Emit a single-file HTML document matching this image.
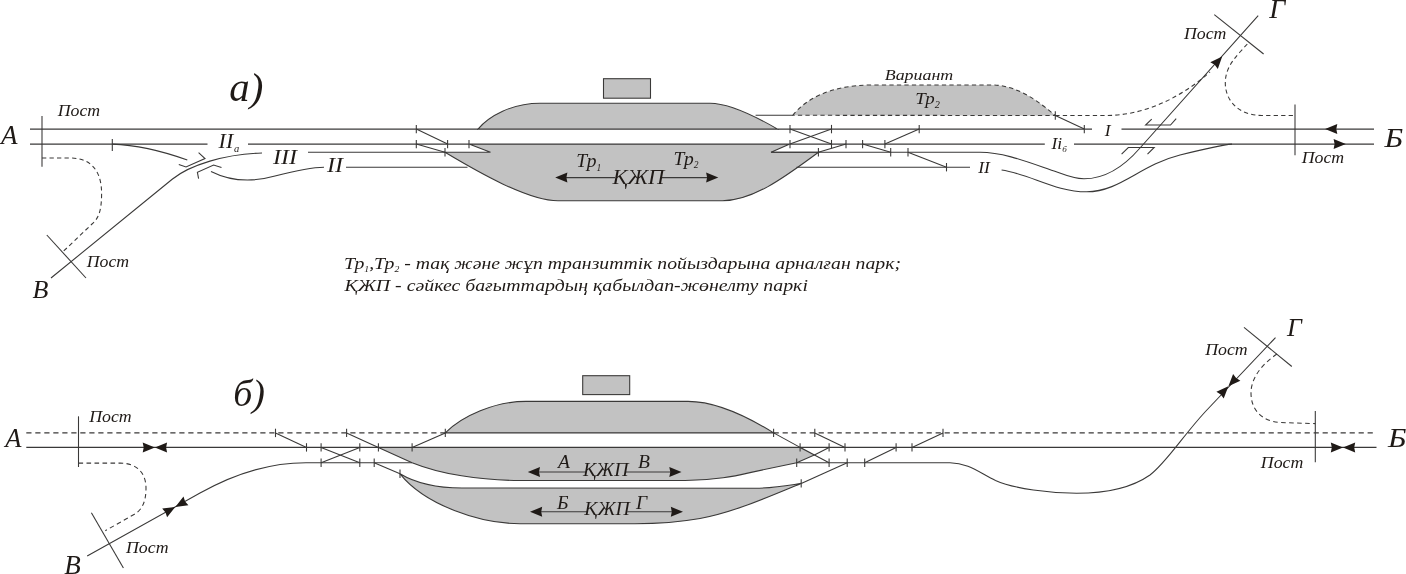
<!DOCTYPE html>
<html lang="kk">
<head>
<meta charset="utf-8">
<title>Схемы</title>
<style>
html,body{margin:0;padding:0;background:#fff;}
svg{display:block;will-change:transform;}
.sh line,.sh path{stroke:#3a3938;stroke-width:1.08;fill:none;stroke-linecap:butt;}
.sh .gr path,.sh .gr rect{fill:#c2c2c2;stroke:#3a3938;stroke-width:1.08;}
.sh path.gd{fill:#c2c2c2;}
.sh .ah{fill:#1f1a17;stroke:none;}
.tx text{font-family:"Liberation Serif",serif;font-style:italic;fill:#1f1a17;}
</style>
</head>
<body>
<svg width="1406" height="574" viewBox="0 0 1406 574">
<rect width="1406" height="574" fill="#fff"/>
<g class="sh">
<g class="gr">
<path d="M478,129.1 C489,116 512,103.2 540,103.2 L710,103.2 C728,103.2 755,116 777.6,129.1 Z" />
<path d="M469,144.1 L789.8,144.1 L771,152.3 L818.5,152.3 C790,173 755,200.8 722.5,200.8 L558,200.8 C528,200.8 478,172 445,152.3 L490.5,152.3 Z" />
<rect x="603.5" y="78.7" width="47" height="19.5"/>
</g>
<path d="M792.8,115.3 C804,101 828,85 872,85 L992,85 C1017,85 1038,101 1055.3,115.5 Z" class="gd" stroke-dasharray="4.3 3.2"/>
<line x1="30" y1="129.1" x2="478" y2="129.1" />
<line x1="777.6" y1="129.1" x2="1092" y2="129.1" />
<line x1="1121.5" y1="129.1" x2="1374" y2="129.1" />
<line x1="30" y1="144.1" x2="207.5" y2="144.1" />
<line x1="248" y1="144.1" x2="469" y2="144.1" />
<line x1="789.8" y1="144.1" x2="1044.8" y2="144.1" />
<line x1="1074" y1="144.1" x2="1374" y2="144.1" />
<path d="M51,278 L172.5,179 C190,165 225,154 262,153" />
<line x1="308" y1="152.3" x2="445" y2="152.3" />
<path d="M771,152.3 L980,152.3 C1005,152.3 1030,163 1057.6,172.3 C1068,176.2 1076,178.8 1084,178.8 C1102,178.8 1121,170 1140,148 L1258.2,15.7" />
<path d="M211,171.4 C228,180 250,183 275,176 C298,170 312,167.2 324,167.2" />
<line x1="346" y1="167.2" x2="467.5" y2="167.2" />
<line x1="796.5" y1="167.2" x2="970" y2="167.2" />
<path d="M1001.6,170 C1030,174 1055,191.8 1086.6,191.8 C1120,191.8 1140,165 1180,155 C1200,150 1220,145 1232,144.1" />
<path d="M112.3,144.1 C140,145 165,152 187.3,160" />
<line x1="112.3" y1="139" x2="112.3" y2="151" />
<path d="M198.6,152.7 L205,158.6 L186,167 L178.8,164.4" />
<path d="M221.5,167.6 L213.6,165 L197.4,172.3 L198.6,178.7" />
<line x1="42" y1="116" x2="42" y2="166.7" />
<path d="M42,158 L70,158 C92,158 101.6,172 101.6,193.5 C101.6,212 98,219 92,224 L62.9,251.8" stroke-dasharray="4.3 3.2"/>
<line x1="46.8" y1="235" x2="86" y2="278" />
<line x1="416.3" y1="124.89999999999999" x2="416.3" y2="133.29999999999998"/>
<line x1="416.3" y1="139.9" x2="416.3" y2="148.29999999999998"/>
<line x1="447.6" y1="139.9" x2="447.6" y2="148.29999999999998"/>
<line x1="445" y1="148.10000000000002" x2="445" y2="156.5"/>
<line x1="469" y1="139.9" x2="469" y2="148.29999999999998"/>
<line x1="416.3" y1="129.1" x2="447.6" y2="144.1" />
<line x1="416.3" y1="144.1" x2="445" y2="152.3" />
<line x1="755.6" y1="115.3" x2="792.8" y2="115.3" />
<line x1="790" y1="124.89999999999999" x2="790" y2="133.29999999999998"/>
<line x1="831.5" y1="124.89999999999999" x2="831.5" y2="133.29999999999998"/>
<line x1="919.2" y1="124.89999999999999" x2="919.2" y2="133.29999999999998"/>
<line x1="790" y1="139.9" x2="790" y2="148.29999999999998"/>
<line x1="831.5" y1="139.9" x2="831.5" y2="148.29999999999998"/>
<line x1="846" y1="139.9" x2="846" y2="148.29999999999998"/>
<line x1="862.6" y1="139.9" x2="862.6" y2="148.29999999999998"/>
<line x1="884.9" y1="139.9" x2="884.9" y2="148.29999999999998"/>
<line x1="818.4" y1="148.10000000000002" x2="818.4" y2="156.5"/>
<line x1="890.7" y1="148.10000000000002" x2="890.7" y2="156.5"/>
<line x1="908" y1="148.10000000000002" x2="908" y2="156.5"/>
<line x1="946.5" y1="163.0" x2="946.5" y2="171.39999999999998"/>
<line x1="1055.3" y1="111.3" x2="1055.3" y2="119.7"/>
<line x1="1084.3" y1="124.89999999999999" x2="1084.3" y2="133.29999999999998"/>
<line x1="790" y1="129.1" x2="831.5" y2="144.1" />
<line x1="831.5" y1="129.1" x2="790" y2="144.1" />
<line x1="846" y1="144.1" x2="818.4" y2="152.3" />
<line x1="862.6" y1="144.1" x2="890.7" y2="152.3" />
<line x1="884.9" y1="144.1" x2="919.2" y2="129.1" />
<line x1="908" y1="152.3" x2="946.5" y2="167.2" />
<line x1="1055.3" y1="115.5" x2="1084.3" y2="129.1" />
<path d="M1055.3,115.5 L1106,115.5 C1142,115.5 1178,100 1210,72" stroke-dasharray="4.3 3.2"/>
<path d="M1151.7,119.1 L1145.6,125 L1170.5,125 L1176.2,118.7" />
<path d="M1121.6,154.2 L1128.3,147.5 L1154.2,147.5 L1147.5,154.2" />
<line x1="1214.3" y1="14.7" x2="1263.6" y2="54" />
<polygon class="ah" points="1222.2,56.5 1210.3,62.3 1214.7,64.8 1217.8,68.9"/>
<path d="M1247.3,44 L1240,52 C1230,63 1225.3,72 1225.3,83 C1225.3,100 1238,115.5 1262,115.5 L1295,115.5" stroke-dasharray="4.3 3.2"/>
<line x1="1295" y1="104.5" x2="1295" y2="155.3" />
<polygon class="ah" points="1325.1,129.1 1337.3,134.1 1336.3,129.1 1337.3,124.1"/>
<polygon class="ah" points="1345.8,144.1 1333.6,139.1 1334.6,144.1 1333.6,149.1"/>
<g class="gr">
<path d="M445.3,432.9 C462,416 495,401.4 526,401.4 L688,401.4 C715,401.4 748,417 773.6,432.9 Z" />
<path d="M378.4,447.4 L800.1,447.4 L814.4,455 L796.7,462.7 L750,472.6 C735,476 715,480.5 685,480.5 L520,480.5 C480,480.5 440,474 412.1,462.7 Z" />
<path d="M400,473.8 C412,481 430,488 462,488 L755,488.3 C775,488 790,485 801.2,483.4 C770,496 735,512 700,518.5 C680,522 660,523.7 635,523.7 L520,523.7 C480,523.7 425,505 400,473.8 Z" />
<rect x="582.7" y="375.7" width="47" height="18.9"/>
</g>
<line x1="26.3" y1="432.9" x2="445.3" y2="432.9" stroke-dasharray="5.2 3.8"/>
<line x1="773.6" y1="432.9" x2="1373.4" y2="432.9" stroke-dasharray="5.2 3.8"/>
<line x1="26.3" y1="447.4" x2="378.4" y2="447.4" />
<line x1="800.1" y1="447.4" x2="1376.5" y2="447.4" />
<path d="M87.2,556 L200,493.06 C225,479 262,462.7 306,462.7 L412.1,462.7" />
<path d="M796.7,462.7 L950,462.7 C968,462.7 980,473 995.5,480.4 C1015,489 1050,493.3 1076.6,493.3 C1105,493.3 1130,489 1150,475 C1166,463 1182,437 1205,412 L1275.5,337.6" />
<line x1="78.5" y1="416.3" x2="78.5" y2="467" />
<path d="M78.5,463.1 L120,463.1 C138,463.1 146,474 146,488 C146,502 142,510 134,514.5 L105.3,530.7" stroke-dasharray="4.6 3.4"/>
<line x1="91.4" y1="512.8" x2="123.4" y2="568" />
<polygon class="ah" points="154.9,447.4 142.7,442.4 143.7,447.4 142.7,452.4"/>
<polygon class="ah" points="154.9,447.4 167.1,452.4 166.1,447.4 167.1,442.4"/>
<polygon class="ah" points="175.3,506.9 162.2,508.5 165.5,512.4 167.1,517.2"/>
<polygon class="ah" points="175.3,506.9 188.4,505.3 185.1,501.4 183.5,496.6"/>
<line x1="275.5" y1="428.7" x2="275.5" y2="437.09999999999997"/>
<line x1="346.6" y1="428.7" x2="346.6" y2="437.09999999999997"/>
<line x1="445.3" y1="428.7" x2="445.3" y2="437.09999999999997"/>
<line x1="306.5" y1="443.2" x2="306.5" y2="451.59999999999997"/>
<line x1="321.1" y1="443.2" x2="321.1" y2="451.59999999999997"/>
<line x1="359.8" y1="443.2" x2="359.8" y2="451.59999999999997"/>
<line x1="378.4" y1="443.2" x2="378.4" y2="451.59999999999997"/>
<line x1="412.1" y1="443.2" x2="412.1" y2="451.59999999999997"/>
<line x1="321.1" y1="458.5" x2="321.1" y2="466.9"/>
<line x1="359.8" y1="458.5" x2="359.8" y2="466.9"/>
<line x1="374.2" y1="458.5" x2="374.2" y2="466.9"/>
<line x1="400" y1="469.6" x2="400" y2="478.0"/>
<line x1="275.5" y1="432.9" x2="306.5" y2="447.4" />
<line x1="346.6" y1="432.9" x2="378.4" y2="447.4" />
<line x1="321.1" y1="447.4" x2="359.8" y2="462.7" />
<line x1="321.1" y1="462.7" x2="359.8" y2="447.4" />
<line x1="374.2" y1="462.7" x2="400" y2="473.8" />
<line x1="412.1" y1="447.4" x2="445.3" y2="432.9" />
<line x1="773.6" y1="428.7" x2="773.6" y2="437.09999999999997"/>
<line x1="814.8" y1="428.7" x2="814.8" y2="437.09999999999997"/>
<line x1="943" y1="428.7" x2="943" y2="437.09999999999997"/>
<line x1="800.1" y1="443.2" x2="800.1" y2="451.59999999999997"/>
<line x1="829.1" y1="443.2" x2="829.1" y2="451.59999999999997"/>
<line x1="845" y1="443.2" x2="845" y2="451.59999999999997"/>
<line x1="896.1" y1="443.2" x2="896.1" y2="451.59999999999997"/>
<line x1="912" y1="443.2" x2="912" y2="451.59999999999997"/>
<line x1="796.7" y1="458.5" x2="796.7" y2="466.9"/>
<line x1="829.1" y1="458.5" x2="829.1" y2="466.9"/>
<line x1="847.2" y1="458.5" x2="847.2" y2="466.9"/>
<line x1="864.7" y1="458.5" x2="864.7" y2="466.9"/>
<line x1="801.2" y1="479.2" x2="801.2" y2="487.59999999999997"/>
<line x1="773.6" y1="432.9" x2="800.1" y2="447.4" />
<line x1="814.4" y1="455" x2="829.1" y2="462.7" />
<line x1="814.8" y1="432.9" x2="845" y2="447.4" />
<line x1="829.1" y1="447.4" x2="814.4" y2="455" />
<line x1="847.2" y1="462.7" x2="801.2" y2="483.4" />
<line x1="864.7" y1="462.7" x2="896.1" y2="447.4" />
<line x1="912" y1="447.4" x2="943" y2="432.9" />
<line x1="1244" y1="327.3" x2="1291.8" y2="366.5" />
<polygon class="ah" points="1228.4,386.2 1216.4,391.7 1220.7,394.4 1223.7,398.5"/>
<polygon class="ah" points="1228.4,386.2 1240.4,380.7 1236.1,378.0 1233.1,373.9"/>
<path d="M1277,354 C1262,364 1251,378 1251,393 C1251,410 1262,421.4 1280,422.5 L1315.3,423.6" stroke-dasharray="4.6 3.4"/>
<line x1="1315.3" y1="411" x2="1315.3" y2="462.2" />
<polygon class="ah" points="1343.0,447.4 1330.8,442.4 1331.8,447.4 1330.8,452.4"/>
<polygon class="ah" points="1343.0,447.4 1355.2,452.4 1354.2,447.4 1355.2,442.4"/>
<line x1="560" y1="177.6" x2="714" y2="177.6" />
<polygon class="ah" points="555.2,177.6 567.4,182.6 566.4,177.6 567.4,172.6"/>
<polygon class="ah" points="718.3,177.6 706.1,172.6 707.1,177.6 706.1,182.6"/>
<line x1="532" y1="472" x2="677" y2="472" />
<polygon class="ah" points="527.8,472.0 540.0,477.0 539.0,472.0 540.0,467.0"/>
<polygon class="ah" points="681.5,472.0 669.3,467.0 670.3,472.0 669.3,477.0"/>
<line x1="534" y1="511.8" x2="679" y2="511.8" />
<polygon class="ah" points="530.0,511.8 542.2,516.8 541.2,511.8 542.2,506.8"/>
<polygon class="ah" points="683.0,511.8 670.8,506.8 671.8,511.8 670.8,516.8"/>
</g>
<g class="tx">
<text x="229.3" y="100.8" font-size="40" textLength="34" lengthAdjust="spacingAndGlyphs" >а)</text>
<text x="233.2" y="405.7" font-size="38" >б)</text>
<text x="1" y="144" font-size="27" >А</text>
<text x="32.6" y="298.2" font-size="26" >В</text>
<text x="1269.2" y="17.7" font-size="28" >Г</text>
<text x="1384.5" y="146.6" font-size="26.8" textLength="18.6" lengthAdjust="spacingAndGlyphs" >Б</text>
<text x="5.2" y="447" font-size="26.5" >А</text>
<text x="64.3" y="573.8" font-size="27" >В</text>
<text x="1287" y="335.7" font-size="26" >Г</text>
<text x="1388" y="447.1" font-size="26.5" textLength="18.4" lengthAdjust="spacingAndGlyphs" >Б</text>
<text x="57.699999999999996" y="116" font-size="17" textLength="42.5" lengthAdjust="spacingAndGlyphs" >Пост</text>
<text x="86.7" y="267" font-size="17" textLength="42.5" lengthAdjust="spacingAndGlyphs" >Пост</text>
<text x="1183.9" y="38.8" font-size="17" textLength="42.5" lengthAdjust="spacingAndGlyphs" >Пост</text>
<text x="1301.7" y="163.3" font-size="17" textLength="42.5" lengthAdjust="spacingAndGlyphs" >Пост</text>
<text x="89.2" y="422" font-size="17" textLength="42.5" lengthAdjust="spacingAndGlyphs" >Пост</text>
<text x="126.0" y="552.5" font-size="17" textLength="42.5" lengthAdjust="spacingAndGlyphs" >Пост</text>
<text x="1205.2" y="354.5" font-size="17" textLength="42.5" lengthAdjust="spacingAndGlyphs" >Пост</text>
<text x="1260.8000000000002" y="468.4" font-size="17" textLength="42.5" lengthAdjust="spacingAndGlyphs" >Пост</text>
<text x="218.6" y="147.9" font-size="22" >II<tspan font-size="10.5" dx="0.8" dy="4.2">а</tspan></text>
<text x="273" y="163.5" font-size="22" textLength="24" lengthAdjust="spacingAndGlyphs" >III</text>
<text x="327" y="172" font-size="22" textLength="16" lengthAdjust="spacingAndGlyphs" >II</text>
<text x="978.2" y="172.9" font-size="17.5" >II</text>
<text x="1104.8" y="135.7" font-size="17.5" >I</text>
<text x="1051.5" y="149.2" font-size="17.5" >Ii<tspan font-size="9" dy="2.6">б</tspan></text>
<text x="884.7" y="80.3" font-size="15.5" textLength="68.6" lengthAdjust="spacingAndGlyphs" >Вариант</text>
<text x="915.3" y="104" font-size="17.5" textLength="24.6" lengthAdjust="spacingAndGlyphs" >Тр<tspan font-size="9.5" dy="4">2</tspan></text>
<text x="576.3" y="167" font-size="19.5" >Тр<tspan font-size="9.5" dy="3.6">1</tspan></text>
<text x="673.6" y="164.8" font-size="19.5" >Тр<tspan font-size="9.5" dy="3.6">2</tspan></text>
<rect x="615" y="172" width="46" height="11" fill="#c2c2c2"/>
<text x="612.4" y="183.6" font-size="21.5" textLength="52" lengthAdjust="spacingAndGlyphs" >ҚЖП</text>
<rect x="586" y="466" width="40" height="10" fill="#c2c2c2"/>
<text x="583" y="475.5" font-size="19" textLength="45.5" lengthAdjust="spacingAndGlyphs" >ҚЖП</text>
<rect x="587.3" y="505.5" width="40" height="10" fill="#c2c2c2"/>
<text x="584.3" y="514.8" font-size="19" textLength="45.5" lengthAdjust="spacingAndGlyphs" >ҚЖП</text>
<text x="558" y="467.6" font-size="19.5" >А</text>
<text x="638" y="467.6" font-size="19.5" >В</text>
<text x="557" y="509.4" font-size="19.5" >Б</text>
<text x="636" y="509.4" font-size="19.5" >Г</text>
<text x="344" y="268.6" font-size="17.3" textLength="557" lengthAdjust="spacingAndGlyphs" >Тр<tspan font-size="8.5" dy="3">1</tspan><tspan dy="-3">,Тр</tspan><tspan font-size="8.5" dy="3">2</tspan><tspan dy="-3"> - тақ және жұп транзиттік пойыздарына арналған парк;</tspan></text>
<text x="344.5" y="290.9" font-size="17.3" textLength="463.4" lengthAdjust="spacingAndGlyphs" >ҚЖП - сәйкес бағыттардың қабылдап-жөнелту паркі</text>
</g>
</svg>
</body>
</html>
